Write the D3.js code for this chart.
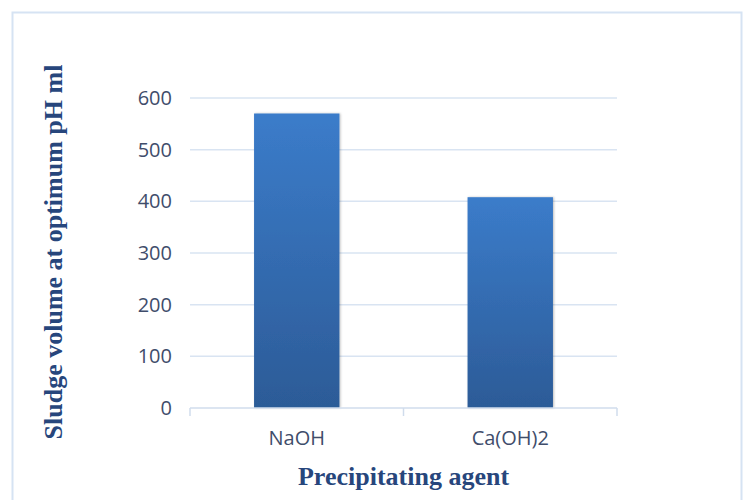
<!DOCTYPE html>
<html>
<head>
<meta charset="utf-8">
<script src="https://cdn.jsdelivr.net/npm/d3@7/dist/d3.min.js"></script>
<style>
  html, body { margin: 0; padding: 0; background: #fff; }
  svg { display: block; }
</style>
</head>
<body>
<svg id="chart" width="743" height="500"></svg>
<script>
// Sludge volume produced by each precipitating agent
const agents = ["NaOH", "Ca(OH)2"];
const sludgeVolume = [570, 408];
const yTicks = [0, 100, 200, 300, 400, 500, 600];

const svg = d3.select("#chart");
const W = 743, H = 500;
const plot = { left: 190, right: 617, top: 98, bottom: 408 };

// chart frame
svg.append("rect")
  .attr("x", 12.5).attr("y", 12.5)
  .attr("width", W - 14).attr("height", H)
  .attr("fill", "#fff")
  .attr("stroke", "#d6e3f3").attr("stroke-width", 2);

const defs = svg.append("defs");
const grad = defs.append("linearGradient")
  .attr("id", "barFill").attr("x1", 0).attr("y1", 0).attr("x2", 0).attr("y2", 1);
grad.append("stop").attr("offset", "0%").attr("stop-color", "#3b7cca");
grad.append("stop").attr("offset", "100%").attr("stop-color", "#2c5b97");

const shadow = defs.append("filter").attr("id", "barShadow")
  .attr("x", "-10%").attr("y", "-10%").attr("width", "130%").attr("height", "120%");
shadow.append("feDropShadow")
  .attr("dx", 1).attr("dy", 0).attr("stdDeviation", 1.2)
  .attr("flood-color", "#000").attr("flood-opacity", 0.25);

const x = d3.scaleBand().domain(agents)
  .range([plot.left, plot.right]).paddingInner(0.6).paddingOuter(0.3);
const y = d3.scaleLinear().domain([0, 600]).range([plot.bottom, plot.top]);

const labelFont = "'Open Sans', 'DejaVu Sans', sans-serif";
const titleFont = "'Liberation Serif', 'DejaVu Serif', serif";

// horizontal gridlines
svg.append("g")
  .selectAll("line").data(yTicks.filter(d => d > 0)).join("line")
  .attr("x1", plot.left).attr("x2", plot.right)
  .attr("y1", d => y(d)).attr("y2", d => y(d))
  .attr("stroke", "#d9e4f2").attr("stroke-width", 1.5);

// y tick labels
const yAxis = d3.axisLeft(y).tickValues(yTicks).tickSize(0).tickPadding(18);
const gy = svg.append("g").attr("transform", `translate(${plot.left},0)`).call(yAxis);
gy.select(".domain").remove();
gy.selectAll("text")
  .attr("font-family", labelFont)
  .attr("font-size", 20).attr("fill", "#3f4d6b");

// bars
svg.append("g")
  .selectAll("rect").data(agents).join("rect")
  .attr("x", d => x(d))
  .attr("width", x.bandwidth())
  .attr("y", (d, i) => y(sludgeVolume[i]))
  .attr("height", (d, i) => y(0) - y(sludgeVolume[i]))
  .attr("fill", "url(#barFill)")
  .attr("filter", "url(#barShadow)");

// category axis with band boundary ticks
const xAxis = d3.axisBottom(x).tickSize(0).tickPadding(23);
const gx = svg.append("g").attr("transform", `translate(0,${plot.bottom})`).call(xAxis);
gx.select(".domain").attr("stroke", "#d0dcec").attr("stroke-width", 1.5)
  .attr("d", `M${plot.left},0H${plot.right}`);
gx.selectAll("text")
  .attr("font-family", labelFont)
  .attr("font-size", 20).attr("fill", "#3f4d6b");
const boundaries = [plot.left, ...agents.slice(1).map(d => x(d) - x.step() * x.paddingInner() / 2), plot.right];
gx.selectAll("line.bound").data(boundaries).join("line")
  .attr("class", "bound")
  .attr("x1", d => d).attr("x2", d => d)
  .attr("y1", 0).attr("y2", 8)
  .attr("stroke", "#d0dcec").attr("stroke-width", 1.5);

// axis titles
svg.append("text")
  .attr("x", (plot.left + plot.right) / 2).attr("y", 485)
  .attr("text-anchor", "middle")
  .attr("font-family", titleFont)
  .attr("font-weight", "bold").attr("font-size", 26)
  .attr("fill", "#27467c")
  .text("Precipitating agent");

svg.append("text")
  .attr("transform", "translate(62,252) rotate(-90)")
  .attr("text-anchor", "middle")
  .attr("font-family", titleFont)
  .attr("font-weight", "bold").attr("font-size", 26)
  .attr("fill", "#27467c")
  .text("Sludge volume at optimum pH ml");
</script>
</body>
</html>
